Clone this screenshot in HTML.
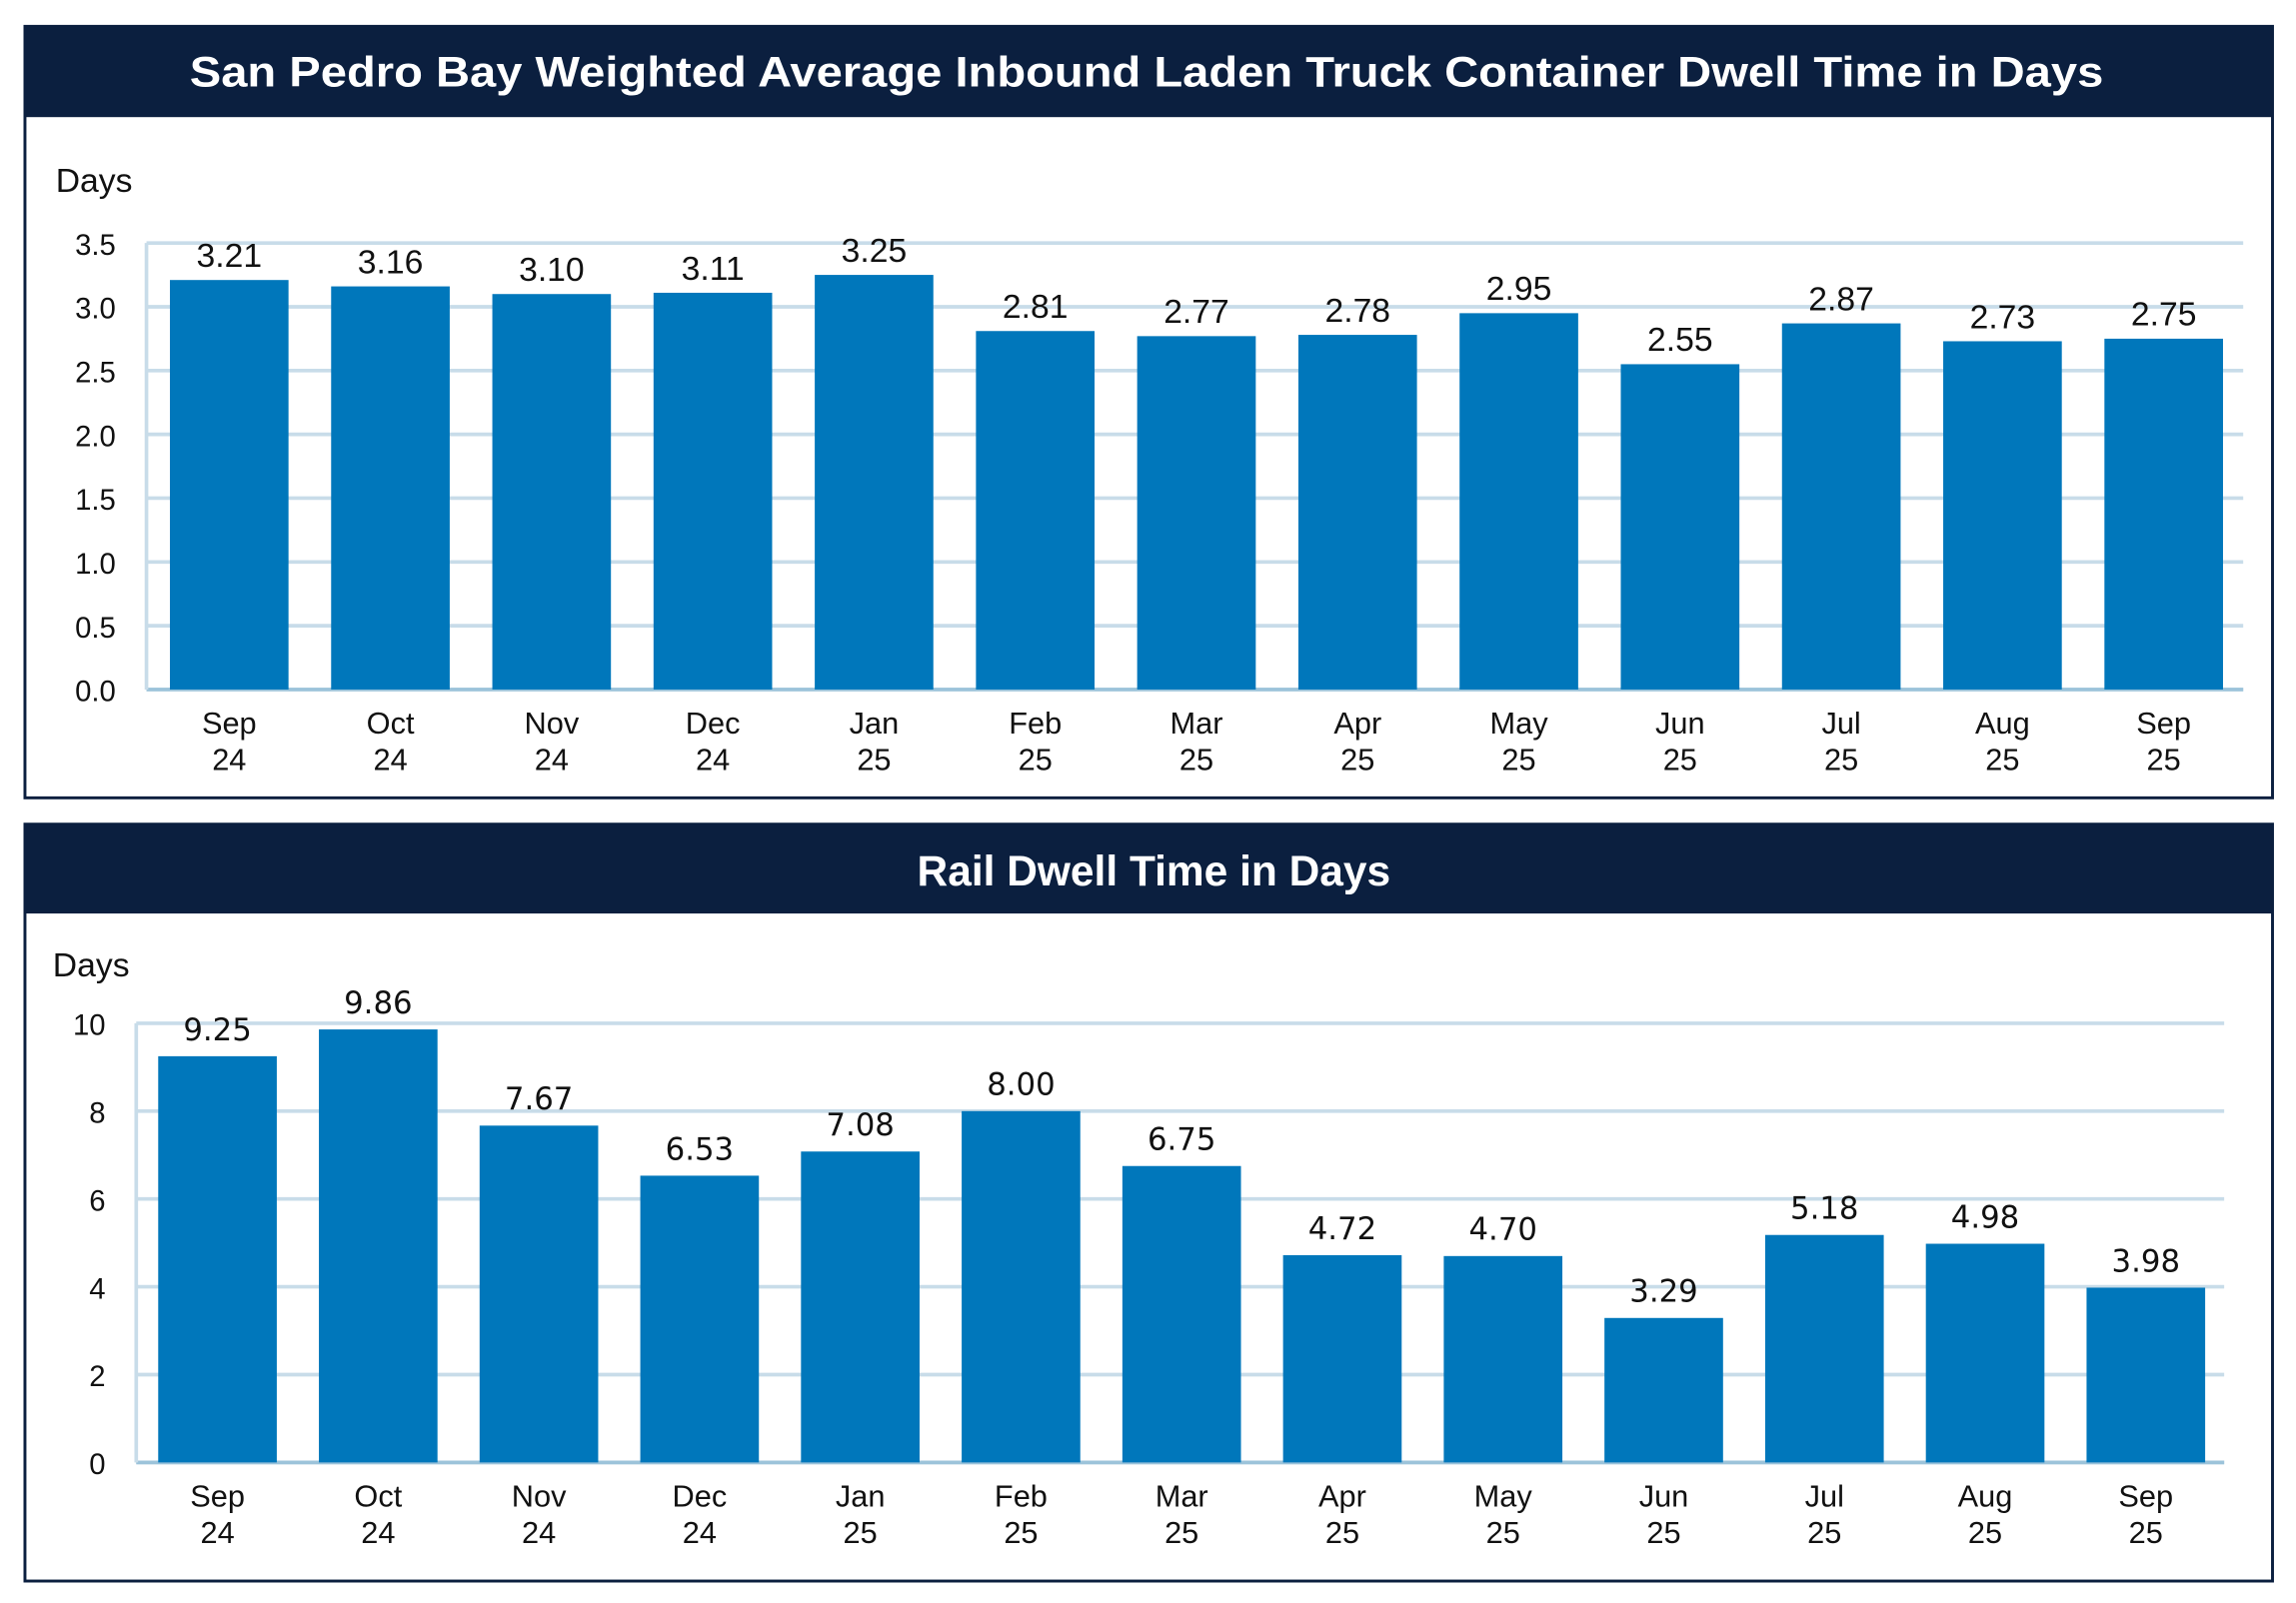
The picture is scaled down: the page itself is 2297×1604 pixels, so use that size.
<!DOCTYPE html>
<html><head><meta charset="utf-8"><style>
html,body{margin:0;padding:0;background:#fff;}
svg{display:block;}
text{font-family:"Liberation Sans Narrow","Liberation Sans",sans-serif;}
</style></head><body>
<svg id="svg" width="2297" height="1604" viewBox="0 0 1568 1095" xmlns="http://www.w3.org/2000/svg">
<g>
<rect x="17" y="18" width="1535" height="527" fill="#fff" stroke="#0b1f3f" stroke-width="2"/>
<rect x="17" y="18" width="1535" height="62" fill="#0b1f3f"/>
<text x="783" y="59" text-anchor="middle" fill="#fff" font-weight="bold" font-size="29" style="font-family:'Liberation Sans',sans-serif" textLength="1307" lengthAdjust="spacingAndGlyphs">San Pedro Bay Weighted Average Inbound Laden Truck Container Dwell Time in Days</text>
<text x="38" y="131" font-size="23" fill="#111">Days</text>
<g id="c1"></g>
</g>
<g>
<rect x="17" y="563" width="1535" height="517" fill="#fff" stroke="#0b1f3f" stroke-width="2"/>
<rect x="17" y="563" width="1535" height="61" fill="#0b1f3f"/>
<text x="788" y="605" text-anchor="middle" fill="#fff" font-weight="bold" font-size="29" style="font-family:'Liberation Sans',sans-serif">Rail Dwell Time in Days</text>
<text x="36" y="667" font-size="23" fill="#111">Days</text>
<g id="c2"></g>
</g>
</svg>
<script>
const categories = ["Sep|24","Oct|24","Nov|24","Dec|24","Jan|25","Feb|25","Mar|25","Apr|25","May|25","Jun|25","Jul|25","Aug|25","Sep|25"];
const truckValues = [3.21,3.16,3.10,3.11,3.25,2.81,2.77,2.78,2.95,2.55,2.87,2.73,2.75];
const truckTicks = [0,0.5,1,1.5,2,2.5,3,3.5];
const railValues = [9.25,9.86,7.67,6.53,7.08,8.00,6.75,4.72,4.70,3.29,5.18,4.98,3.98];
const railTicks = [0,2,4,6,8,10];
const NS="http://www.w3.org/2000/svg";
function mk(p,tag,a,txt){const e=document.createElementNS(NS,tag);for(const k in a)e.setAttribute(k,a[k]);if(txt!==undefined)e.textContent=txt;p.appendChild(e);return e;}
function draw(g,vals,ticks,o){
  const y=v=>o.y0-(v-o.vmin)/(o.vmax-o.vmin)*(o.y0-o.y1);
  const x=i=>o.bx0+i*o.step;
  ticks.forEach(t=>{
    const l=mk(g,'line',{x1:o.ax0,x2:o.ax1,y1:y(t),y2:y(t),stroke:'#c8dce9','stroke-width':2.5});
    
    
    const tx=mk(g,'text',{x:o.tx,y:y(t)+8,'text-anchor':'end','font-size':20,fill:'#111'},o.fmt(t));
    
    
  });
  const ax=mk(g,'line',{x1:o.ax0,x2:o.ax1,y1:o.y0,y2:o.y0,stroke:'#9cc3da','stroke-width':2.5});
  
  
  const ay=mk(g,'line',{x1:o.ax0,x2:o.ax0,y1:o.y1,y2:o.y0,stroke:'#c8dce9','stroke-width':2.5});
  
  
  vals.forEach((v,i)=>{
    const b=mk(g,'rect',{x:x(i),y:y(v),width:o.bw,height:o.y0-y(v),fill:'#0077bb'});
    
    
    const vl=mk(g,'text',{x:x(i)+o.bw/2,y:y(v)-o.vgap,'text-anchor':'middle','font-size':o.vfs,fill:'#111',style:o.vstyle},v.toFixed(2));
    
    
    const [m,yr]=categories[i].split('|');
    const c1=mk(g,'text',{x:x(i)+o.bw/2,y:o.y0+30,'text-anchor':'middle','font-size':21,fill:'#111'},m);
    
    
    const c2=mk(g,'text',{x:x(i)+o.bw/2,y:o.y0+55,'text-anchor':'middle','font-size':21,fill:'#111'},yr);
    
    
  });
}
draw(document.getElementById('c1'),truckValues,truckTicks,{y0:471,y1:166,vmin:0,vmax:3.5,bx0:116,step:110.1,bw:81,ax0:100,ax1:1532,tx:79,fmt:t=>t.toFixed(1),vfs:23,vgap:9,vstyle:''});
draw(document.getElementById('c2'),railValues,railTicks,{y0:999,y1:699,vmin:0,vmax:10,bx0:108,step:109.75,bw:81,ax0:93,ax1:1519,tx:72,fmt:t=>String(t),vfs:21,vgap:11,vstyle:"font-family:'DejaVu Sans',sans-serif"});
</script>
</body></html>
